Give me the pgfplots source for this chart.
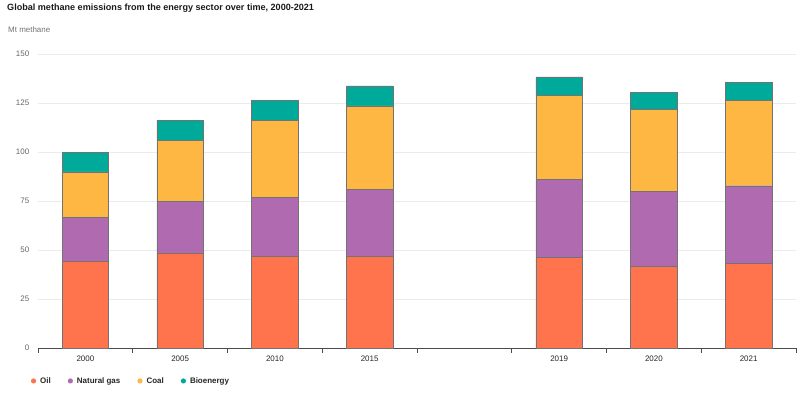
\documentclass[border=0pt]{standalone}
\usepackage{fontspec}
\setmainfont{Liberation Sans}
\usepackage{pgfplots}
\pgfplotsset{compat=1.18}
\definecolor{oilc}{HTML}{FF734D}
\definecolor{gasc}{HTML}{AF6AB0}
\definecolor{coalc}{HTML}{FFB743}
\definecolor{bioc}{HTML}{00AA9B}
\begin{document}
\begin{tikzpicture}[x=1bp,y=1bp]
\useasboundingbox (0,0) rectangle (801,396);
\node[anchor=west, inner sep=0pt, font=\bfseries\fontsize{9.1}{11}\selectfont, text=black!90] at (7,388) {Global methane emissions from the energy sector over time, 2000-2021};
\node[anchor=west, inner sep=0pt, font=\fontsize{8}{9}\selectfont, text=black!55] at (8,366) {Mt methane};
\begin{axis}[
  at={(38bp,48bp)}, anchor=south west, scale only axis,
  width=758bp, height=294bp,
  ybar stacked, bar width=0.49,
  xmin=-0.5, xmax=7.5, ymin=0, ymax=150,
  xtick={0,1,2,3,5,6,7},
  xticklabels={2000,2005,2010,2015,2019,2020,2021},
  minor xtick={-0.5,0.5,1.5,2.5,3.5,4.5,5.5,6.5,7.5},
  major x tick style={draw=none},
  minor x tick style={draw=black!70, line width=0.6pt},
  minor tick length=5bp,
  tick align=outside,
  axis x line*=bottom,
  axis y line*=left,
  y axis line style={draw=none},
  x axis line style={draw=black!70, line width=0.6pt, -},
  ytick={0,25,50,75,100,125,150},
  major y tick style={draw=none},
  ymajorgrids, grid style={draw=black!8, line width=0.6pt},
  yticklabel style={text=black!60, font=\fontsize{8}{9}\selectfont, xshift=-1bp},
  xticklabel style={text=black!85, font=\fontsize{8}{9}\selectfont},
  /pgf/number format/assume math mode=true,
  legend style={at={(axis description cs:-0.0135,-0.112)}, anchor=west, draw=none, fill=none,
    legend columns=4, font=\bfseries\fontsize{8}{9}\selectfont, text=black!85,
    /tikz/every odd column/.append style={column sep=2bp},
    /tikz/every even column/.append style={column sep=15bp}},
  legend image code/.code={\fill[#1, draw=none] (0.35em,0) circle (2.6bp);},
]
\addplot[fill=oilc, draw=black!55, line width=0.4pt] coordinates {(0,44.4) (1,48.5) (2,46.9) (3,46.9) (5,46.3) (6,41.7) (7,43.2)};
\addplot[fill=gasc, draw=black!55, line width=0.4pt] coordinates {(0,22.4) (1,26.5) (2,30.1) (3,34.1) (5,39.6) (6,38.3) (7,39.6)};
\addplot[fill=coalc, draw=black!55, line width=0.4pt] coordinates {(0,23.0) (1,31.0) (2,39.3) (3,42.5) (5,43.0) (6,41.6) (7,43.4)};
\addplot[fill=bioc, draw=black!55, line width=0.4pt] coordinates {(0,10.2) (1,10.3) (2,10.2) (3,10.2) (5,9.4) (6,9.0) (7,9.4)};
\legend{Oil, Natural gas, Coal, Bioenergy}
\end{axis}
\end{tikzpicture}
\end{document}
